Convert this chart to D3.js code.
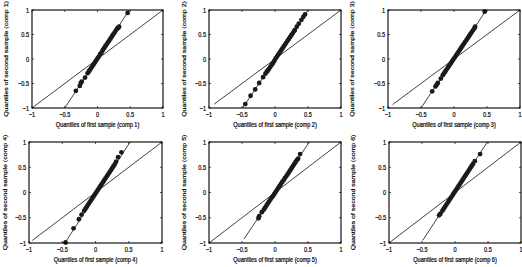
<!DOCTYPE html>
<html>
  <head>
    <title>QQ plots</title>
    <script src="https://d3js.org/d3.v7.min.js"></script>
    <style>
      body { margin: 0; background: #fff; }
      text { font-family: "Liberation Sans", Arial, sans-serif; fill: #000; stroke: #000; stroke-width: 0.2; }
    </style>
  </head>
  <body>
    <svg id="chart" width="522" height="267"></svg>
    <script>
      // sample quantiles, one pair of arrays per component
      var comp1X = [-0.33,-0.27,-0.255,-0.24,-0.19,-0.15,-0.13,-0.12,-0.10,-0.08,-0.06,-0.04,-0.02,0.00,0.02,0.04,0.06,0.08,0.10,0.12,0.14,0.16,0.18,0.20,0.22,0.24,0.26,0.28,0.30,0.31,0.32,0.33,0.46];
      var comp1Y = [-0.65,-0.55,-0.49,-0.46,-0.38,-0.29,-0.25,-0.23,-0.19,-0.15,-0.11,-0.07,-0.03,0.01,0.05,0.10,0.13,0.18,0.22,0.26,0.30,0.34,0.38,0.42,0.46,0.50,0.54,0.58,0.62,0.63,0.645,0.66,0.94];

      var comp2X = [-0.45,-0.37,-0.30,-0.24,-0.18,-0.145,-0.125,-0.11,-0.09,-0.07,-0.05,-0.03,-0.01,0.01,0.03,0.05,0.07,0.09,0.11,0.13,0.15,0.17,0.19,0.21,0.23,0.25,0.27,0.29,0.30,0.33,0.36,0.40,0.43,0.455];
      var comp2Y = [-0.92,-0.75,-0.62,-0.49,-0.37,-0.30,-0.26,-0.24,-0.20,-0.16,-0.12,-0.08,-0.04,0.01,0.05,0.09,0.13,0.17,0.21,0.25,0.29,0.33,0.37,0.41,0.45,0.49,0.53,0.57,0.59,0.66,0.72,0.80,0.86,0.91];

      var comp3X = [-0.33,-0.28,-0.26,-0.245,-0.20,-0.17,-0.15,-0.13,-0.11,-0.09,-0.07,-0.05,-0.03,-0.01,0.01,0.03,0.05,0.07,0.09,0.11,0.13,0.15,0.17,0.19,0.21,0.23,0.25,0.27,0.29,0.31,0.32,0.465];
      var comp3Y = [-0.66,-0.56,-0.52,-0.49,-0.40,-0.33,-0.29,-0.25,-0.21,-0.17,-0.13,-0.09,-0.05,-0.01,0.03,0.07,0.11,0.15,0.19,0.23,0.27,0.31,0.35,0.39,0.43,0.47,0.51,0.55,0.59,0.63,0.66,0.965];

      var comp4X = [-0.45,-0.33,-0.25,-0.21,-0.17,-0.15,-0.13,-0.11,-0.09,-0.07,-0.05,-0.03,-0.01,0.01,0.03,0.05,0.07,0.09,0.11,0.13,0.15,0.17,0.19,0.21,0.23,0.25,0.27,0.29,0.31,0.34,0.39];
      var comp4Y = [-0.99,-0.71,-0.53,-0.44,-0.36,-0.32,-0.28,-0.24,-0.20,-0.16,-0.12,-0.08,-0.04,0.00,0.04,0.08,0.12,0.16,0.20,0.24,0.28,0.32,0.36,0.40,0.44,0.48,0.52,0.56,0.61,0.70,0.795];

      var comp5X = [-0.25,-0.24,-0.20,-0.17,-0.15,-0.13,-0.11,-0.09,-0.07,-0.05,-0.03,-0.01,0.01,0.03,0.05,0.07,0.09,0.11,0.13,0.15,0.17,0.19,0.21,0.23,0.25,0.27,0.29,0.31,0.33,0.35,0.38];
      var comp5Y = [-0.51,-0.47,-0.39,-0.34,-0.30,-0.26,-0.22,-0.18,-0.14,-0.10,-0.07,-0.03,0.01,0.05,0.09,0.13,0.17,0.21,0.245,0.285,0.32,0.36,0.40,0.44,0.48,0.52,0.56,0.60,0.64,0.67,0.76];

      var comp6X = [-0.24,-0.22,-0.19,-0.17,-0.15,-0.13,-0.11,-0.09,-0.07,-0.05,-0.03,-0.01,0.01,0.03,0.05,0.07,0.09,0.11,0.13,0.15,0.17,0.19,0.21,0.23,0.25,0.27,0.30,0.38];
      var comp6Y = [-0.45,-0.42,-0.36,-0.32,-0.28,-0.24,-0.20,-0.16,-0.12,-0.08,-0.04,0.00,0.04,0.08,0.12,0.16,0.20,0.24,0.28,0.32,0.36,0.40,0.44,0.48,0.52,0.56,0.62,0.76];

      // fitted reference line per panel: x1, y1, x2, y2
      var fitLines = [
        [-0.50, -1, 0.485, 1],
        [-0.49, -1, 0.50, 1],
        [-0.50, -1, 0.49, 1],
        [-0.46, -1, 0.52, 1],
        [-0.47, -0.92, 0.52, 1],
        [-0.49, -0.95, 0.49, 1]
      ];
      // where the y = x line starts
      var diagStart = [-1, -0.92, -0.93, -0.95, -1, -1];

      var compNames = ["comp 1", "comp 2", "comp 3", "comp 4", "comp 5", "comp 6"];
      var tickValues = [-1, -0.5, 0, 0.5, 1];
      var tickLabels = ["\u22121", "\u22120.5", "0", "0.5", "1"];

      var xs = [comp1X, comp2X, comp3X, comp4X, comp5X, comp6X];
      var ys = [comp1Y, comp2Y, comp3Y, comp4Y, comp5Y, comp6Y];

      var panels = [
        {left: 32, top: 10, w: 131, h: 98, labelX: 7.5},
        {left: 209, top: 10, w: 132, h: 98, labelX: 186},
        {left: 388, top: 10, w: 132, h: 98, labelX: 354},
        {left: 29, top: 142, w: 133, h: 101, labelX: 7},
        {left: 209, top: 142, w: 132, h: 101, labelX: 186},
        {left: 389, top: 142, w: 132, h: 101, labelX: 354.5}
      ];

      var svg = d3.select("#chart");
      var fs = 7;   // the original figure is squeezed horizontally
      var squeeze = 0.8;

      panels.forEach(function(p, i) {
        var x = d3.scaleLinear().domain([-1, 1]).range([0, p.w]);
        var y = d3.scaleLinear().domain([-1, 1]).range([p.h, 0]);
        var g = svg.append("g").attr("transform", "translate(" + p.left + "," + p.top + ")");

        // inward ticks on all four sides
        tickValues.forEach(function(t) {
          g.append("line").attr("x1", x(t)).attr("x2", x(t)).attr("y1", p.h).attr("y2", p.h - 2)
            .attr("stroke", "#111").attr("stroke-width", 0.7);
          g.append("line").attr("x1", x(t)).attr("x2", x(t)).attr("y1", 0).attr("y2", 2)
            .attr("stroke", "#111").attr("stroke-width", 0.7);
          g.append("line").attr("x1", 0).attr("x2", 2).attr("y1", y(t)).attr("y2", y(t))
            .attr("stroke", "#111").attr("stroke-width", 0.7);
          g.append("line").attr("x1", p.w).attr("x2", p.w - 2).attr("y1", y(t)).attr("y2", y(t))
            .attr("stroke", "#111").attr("stroke-width", 0.7);
        });

        tickValues.forEach(function(t, k) {
          g.append("g").attr("transform", "translate(" + x(t) + "," + (p.h + 8.5) + ") scale(" + squeeze + ",1)")
            .append("text").attr("text-anchor", "middle").attr("font-size", fs).text(tickLabels[k]);
          g.append("g").attr("transform", "translate(-3," + (y(t) + 2.5) + ") scale(" + squeeze + ",1)")
            .append("text").attr("text-anchor", "end").attr("font-size", fs).text(tickLabels[k]);
        });

        // y = x line
        g.append("line")
          .attr("x1", x(diagStart[i])).attr("y1", y(diagStart[i]))
          .attr("x2", x(1)).attr("y2", y(1))
          .attr("stroke", "#111").attr("stroke-width", 0.8);

        // fitted line through the quantiles
        var f = fitLines[i];
        g.append("line")
          .attr("x1", x(f[0])).attr("y1", y(f[1]))
          .attr("x2", x(f[2])).attr("y2", y(f[3]))
          .attr("stroke", "#111").attr("stroke-width", 0.8);

        var pts = d3.zip(xs[i], ys[i]);
        g.selectAll("circle.q").data(pts).enter().append("circle")
          .attr("class", "q")
          .attr("cx", function(d) { return x(d[0]); })
          .attr("cy", function(d) { return y(d[1]); })
          .attr("r", 2.4)
          .attr("fill", "#1a1a1a");

        g.append("rect").attr("width", p.w).attr("height", p.h)
          .attr("fill", "none").attr("stroke", "#000").attr("stroke-width", 1.1);

        g.append("g").attr("transform", "translate(" + (p.w / 2) + "," + (p.h + 19) + ") scale(" + squeeze + ",1)")
          .append("text").attr("text-anchor", "middle").attr("font-size", fs)
          .text("Quantiles of first sample (" + compNames[i] + ")");

        svg.append("g").attr("transform", "translate(" + p.labelX + "," + (p.top + p.h / 2) + ") rotate(-90) scale(1," + squeeze + ")")
          .append("text").attr("text-anchor", "middle").attr("font-size", fs)
          .text("Quantiles of second sample (" + compNames[i] + ")");
      });
    </script>
  </body>
</html>
